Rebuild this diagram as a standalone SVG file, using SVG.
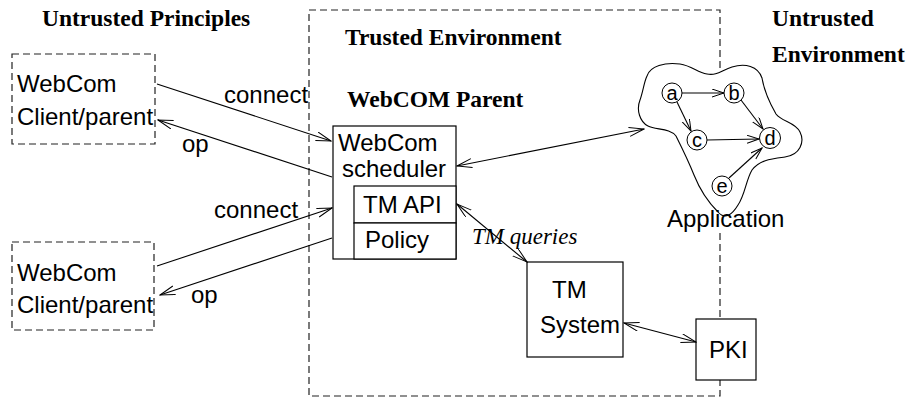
<svg xmlns="http://www.w3.org/2000/svg" width="906" height="401" viewBox="0 0 906 401">
<style>
.bs{font-family:"Liberation Serif","Times New Roman",serif;font-weight:bold;font-size:23.5px;fill:#000}
.ss{font-family:"Liberation Sans",Arial,sans-serif;font-size:24px;fill:#000}
.gl{font-family:"Liberation Sans",Arial,sans-serif;font-size:20px;fill:#000;text-anchor:middle}
.it{font-family:"Liberation Serif","Times New Roman",serif;font-style:italic;font-size:23px;fill:#000}
.dash{fill:none;stroke:#222;stroke-width:1.2;stroke-dasharray:7 4}
.box{fill:#fff;stroke:#000;stroke-width:1.2}
.ln{fill:none;stroke:#000;stroke-width:1.1}
.node{fill:#fff;stroke:#000;stroke-width:1}
</style>
<defs>
<marker id="ah" markerUnits="userSpaceOnUse" markerWidth="16" markerHeight="10" refX="15" refY="4.5" orient="auto-start-reverse" viewBox="0 0 16 10">
<path d="M0,0 L15,4.5 L0,9" fill="none" stroke="#000" stroke-width="1"/>
</marker>
<marker id="ahs" markerUnits="userSpaceOnUse" markerWidth="14" markerHeight="10" refX="12" refY="4" orient="auto" viewBox="0 0 14 10">
<path d="M0,0 L12,4 L0,8" fill="none" stroke="#000" stroke-width="1"/>
</marker>
</defs>
<rect width="906" height="401" fill="#fff"/>

<g id="labels">
<text class="bs" x="42" y="26">Untrusted Principles</text>
<text class="bs" x="345" y="45">Trusted Environment</text>
<text class="bs" x="347" y="107">WebCOM Parent</text>
<text class="bs" x="772" y="26">Untrusted</text>
<text class="bs" x="772" y="62">Environment</text>
</g>

<g id="trusted-env">
<path class="dash" d="M720,68 L720,10 L309,10 L309,396 L720,396 L720,380"/>
<path class="dash" d="M720,233 L720,319"/>
</g>

<g id="client1">
<rect class="dash" x="12" y="54" width="143" height="90"/>
<text class="ss" x="17" y="92">WebCom</text>
<text class="ss" x="17" y="125">Client/parent</text>
</g>

<g id="client2">
<rect class="dash" x="12" y="242" width="142" height="88"/>
<text class="ss" x="17" y="281">WebCom</text>
<text class="ss" x="17" y="313">Client/parent</text>
</g>

<g id="scheduler">
<rect class="box" x="333" y="126" width="123" height="133"/>
<text class="ss" x="338" y="151">WebCom</text>
<text class="ss" x="342" y="177">scheduler</text>
</g>

<g id="tm-api">
<rect class="box" x="354" y="186" width="102" height="37"/>
<text class="ss" x="363" y="213">TM API</text>
</g>

<g id="policy">
<rect class="box" x="354" y="223" width="102" height="36"/>
<text class="ss" x="365" y="248">Policy</text>
</g>

<g id="tm-system">
<rect class="box" x="527" y="262" width="96" height="95"/>
<text class="ss" x="552" y="298">TM</text>
<text class="ss" x="540" y="333">System</text>
</g>

<g id="pki">
<rect class="box" x="696" y="319" width="60" height="61"/>
<text class="ss" x="709" y="358">PKI</text>
</g>

<g id="application">
<path fill="#fff" stroke="#000" stroke-width="1.1" d="M647,76 C650,66 665,62 680,64 C692,66 697,72 707,74 C717,76 722,70 732,67 C745,63 758,66 762,78 C764,90 768,100 776,114 C782,122 795,122 800,132 C805,142 800,155 785,157 C770,159 760,160 752,170 C746,180 745,195 738,205 C732,215 725,220 718,212 C708,202 700,190 694,175 C688,160 682,148 676,136 C670,128 656,130 648,126 C640,122 636,110 640,100 C643,92 644,82 647,76 Z"/>
<g id="graph-edges">
<line class="ln" x1="682" y1="93" x2="724" y2="93" marker-end="url(#ahs)"/>
<line class="ln" x1="677" y1="102" x2="691" y2="131" marker-end="url(#ahs)"/>
<line class="ln" x1="741" y1="100" x2="763" y2="129" marker-end="url(#ahs)"/>
<line class="ln" x1="707" y1="140" x2="759" y2="139" marker-end="url(#ahs)"/>
<line class="ln" x1="729" y1="178" x2="762" y2="148" marker-end="url(#ahs)"/>
</g>
<g id="node-a"><circle class="node" cx="672" cy="93" r="10"/><text class="gl" x="672" y="100">a</text></g>
<g id="node-b"><circle class="node" cx="734" cy="93" r="10"/><text class="gl" x="734" y="100">b</text></g>
<g id="node-c"><circle class="node" cx="697" cy="140" r="10"/><text class="gl" x="697" y="147">c</text></g>
<g id="node-d"><circle class="node" cx="770" cy="138" r="10.5"/><text class="gl" x="770" y="145">d</text></g>
<g id="node-e"><circle class="node" cx="722" cy="186" r="10"/><text class="gl" x="722" y="193">e</text></g>
<text class="ss" x="667" y="227">Application</text>
</g>

<g id="connectors">
<line class="ln" x1="157" y1="84" x2="331" y2="141" marker-end="url(#ah)"/>
<line class="ln" x1="332" y1="177" x2="158" y2="120" marker-end="url(#ah)"/>
<line class="ln" x1="157" y1="266" x2="332" y2="208" marker-end="url(#ah)"/>
<line class="ln" x1="332" y1="238" x2="160" y2="295" marker-end="url(#ah)"/>
<line class="ln" x1="457" y1="166" x2="644" y2="129" marker-start="url(#ah)" marker-end="url(#ah)"/>
<line class="ln" x1="457" y1="204" x2="527" y2="262" marker-start="url(#ah)" marker-end="url(#ah)"/>
<line class="ln" x1="624" y1="323" x2="696" y2="342" marker-start="url(#ah)" marker-end="url(#ah)"/>
<text class="ss" x="224" y="103">connect</text>
<text class="ss" x="182" y="152">op</text>
<text class="ss" x="214" y="218">connect</text>
<text class="ss" x="191" y="303">op</text>
<text class="it" x="472" y="244">TM queries</text>
</g>
</svg>
